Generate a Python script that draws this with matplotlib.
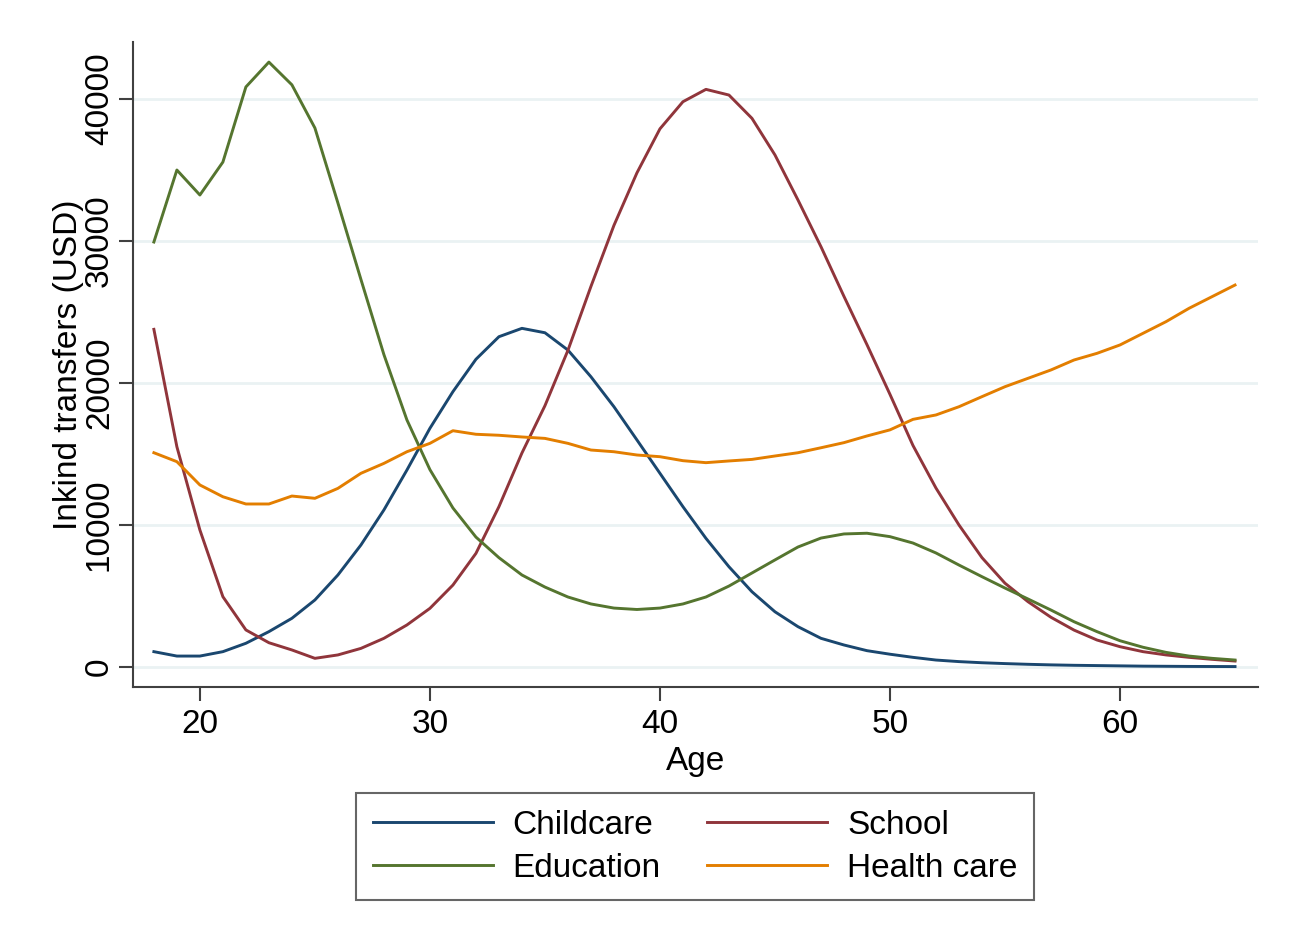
import numpy as np
import matplotlib
matplotlib.use("Agg")
import matplotlib.pyplot as plt

plt.rcParams["font.family"] = ["Liberation Sans", "DejaVu Sans"]

# ages 18..65
age = list(range(18, 66))

childcare = [1080, 770, 770, 1080, 1670, 2490, 3430, 4720, 6480, 8590,
             11060, 13870, 16810, 19390, 21670, 23260, 23850, 23540, 22320, 20440,
             18330, 15990, 13640, 11290, 9060, 7060, 5300, 3890, 2840, 2020,
             1550, 1150, 900, 680, 490, 380, 300, 240, 190, 150,
             120, 100, 80, 60, 50, 40, 35, 30]

school = [23780, 15510, 9650, 4950, 2610, 1710, 1200, 610, 850, 1310,
          2020, 2960, 4130, 5770, 8000, 11290, 15070, 18400, 22300, 26800,
          31100, 34800, 37900, 39810, 40680, 40280, 38640, 36060, 32890, 29600,
          26100, 22700, 19200, 15600, 12600, 10000, 7700, 5900, 4600, 3500,
          2600, 1900, 1430, 1080, 850, 680, 540, 420]

education = [29930, 35000, 33240, 35560, 40850, 42600, 41000, 37960, 32680, 27300,
             22000, 17400, 13900, 11200, 9150, 7700, 6480, 5630, 4930, 4440,
             4150, 4050, 4150, 4440, 4930, 5700, 6620, 7540, 8450, 9080,
             9370, 9420, 9180, 8730, 8030, 7180, 6360, 5560, 4790, 4010,
             3190, 2490, 1850, 1390, 1030, 770, 610, 490]

health = [15090, 14460, 12820, 11990, 11480, 11480, 12040, 11880, 12580, 13640,
          14340, 15160, 15750, 16640, 16390, 16320, 16200, 16100, 15750, 15280,
          15160, 14930, 14810, 14530, 14390, 14510, 14620, 14860, 15090, 15440,
          15800, 16270, 16700, 17440, 17750, 18330, 19040, 19740, 20330, 20920,
          21620, 22090, 22680, 23500, 24320, 25260, 26080, 26900]

series = [("Childcare", childcare, "#1a476f"),
          ("School", school, "#90353b"),
          ("Education", education, "#55752f"),
          ("Health care", health, "#e37e00")]

fig = plt.figure(figsize=(12.92, 9.38), dpi=100)
ax = fig.add_axes([0.1029, 0.2676, 0.8708, 0.6876])

lines = {}
for name, vals, col in series:
    lines[name], = ax.plot(age, vals, color=col, linewidth=2.1, label=name, zorder=3)

ax.set_xlim(17.09, 66.0)
ax.set_ylim(-1408, 44014)
ax.set_xticks([20, 30, 40, 50, 60])
ax.set_yticks([0, 10000, 20000, 30000, 40000])
ax.set_yticklabels(["0", "10000", "20000", "30000", "40000"], rotation=90, va="center")
ax.grid(axis="y", color="#eaf2f3", linewidth=2.0, zorder=0)
ax.set_axisbelow(True)

for side in ["top", "right"]:
    ax.spines[side].set_visible(False)
for side in ["left", "bottom"]:
    ax.spines[side].set_color("#404040")
    ax.spines[side].set_linewidth(1.5)
ax.tick_params(axis="both", direction="out", length=10, width=1.5,
               color="#404040", labelsize=24, pad=6)
ax.tick_params(axis="y", pad=3)

ax.set_xlabel("Age", fontsize=24, labelpad=4)
ax.set_ylabel("Inkind transfers (USD)", fontsize=24, labelpad=0)

# legend is filled column by column, so order gives rows Childcare/School, Education/Health care
order = ["Childcare", "Education", "School", "Health care"]
leg = fig.legend([lines[k] for k in order], order,
                 loc="upper center", bbox_to_anchor=(0.538, 0.1546), ncol=2,
                 fontsize=24, handlelength=3.6, handletextpad=0.6,
                 columnspacing=1.4, borderpad=0.5, labelspacing=0.36,
                 borderaxespad=0, fancybox=False, frameon=True)
leg.get_frame().set_edgecolor("#404040")
leg.get_frame().set_linewidth(1.5)
for line in leg.get_lines():
    line.set_linewidth(2.1)

plt.savefig("out.png", dpi=100, facecolor="white")
